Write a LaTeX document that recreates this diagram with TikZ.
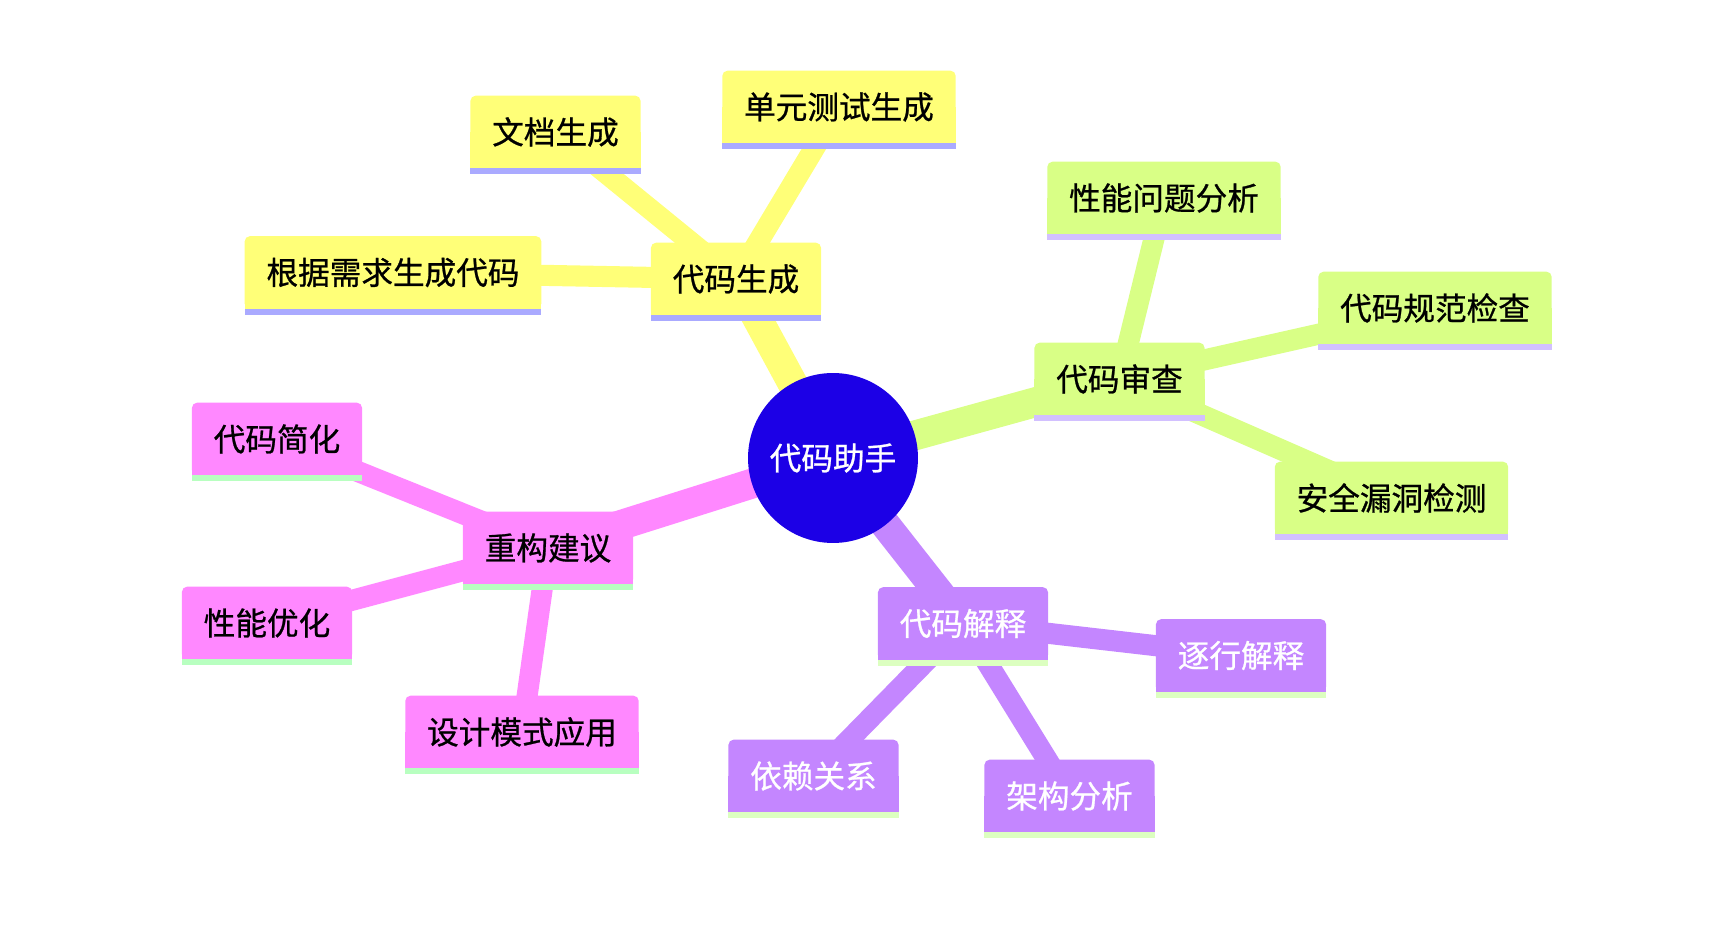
\documentclass[tikz,border=0pt]{standalone}
\usepackage{fontspec}
\newfontfamily\cjk[FakeBold=0.8]{Noto Sans CJK SC}
\definecolor{rootblue}{HTML}{1C00E6}
\definecolor{fillgen}{HTML}{FFFF78}
\definecolor{bargen}{HTML}{AAAAFF}
\definecolor{fillrev}{HTML}{D9FF86}
\definecolor{barrev}{HTML}{D2C0FF}
\definecolor{fillexp}{HTML}{C486FF}
\definecolor{barexp}{HTML}{DCFFC0}
\definecolor{fillref}{HTML}{FF88FF}
\definecolor{barref}{HTML}{B8FFC0}
\pgfdeclarelayer{links}
\pgfdeclarelayer{boxes}
\pgfsetlayers{links,boxes,main}

\begin{document}
\begin{tikzpicture}[
  x=0.02cm,y=-0.02cm,
  topic/.style={font=\cjk\fontsize{18}{18}\selectfont, text=black,
    inner xsep=0.43cm, inner ysep=0pt, minimum height=1.44cm},
  lighttopic/.style={topic, text=white},
  hub/.style={circle, fill=rootblue, text=white, minimum size=3.4cm,
    inner sep=0pt, font=\cjk\fontsize{18}{18}\selectfont},
  trunk/.style={line width=17pt},
  twig/.style={line width=12pt}
]
\useasboundingbox (0,0) rectangle (1732,942);

% central idea
\node[hub] (assist) at (833,458) {代码助手};

% branch: generation
\node[topic] (gen)     at (736,279)   {代码生成};
\node[topic] (gentest) at (839,107)   {单元测试生成};
\node[topic] (gendoc)  at (555.5,132) {文档生成};
\node[topic] (genreq)  at (393,272.5) {根据需求生成代码};

% branch: review
\node[topic] (rev)      at (1119.5,379) {代码审查};
\node[topic] (revperf)  at (1164,198)   {性能问题分析};
\node[topic] (revstyle) at (1435,308)   {代码规范检查};
\node[topic] (revsec)   at (1391.5,498) {安全漏洞检测};

% branch: explanation
\node[lighttopic] (exp)     at (963,623.5)  {代码解释};
\node[lighttopic] (expline) at (1241,655.5) {逐行解释};
\node[lighttopic] (exparch) at (1069.5,796) {架构分析};
\node[lighttopic] (expdep)  at (813.5,776)  {依赖关系};

% branch: refactoring
\node[topic] (ref)     at (548,548) {重构建议};
\node[topic] (refsimp) at (277,439) {代码简化};
\node[topic] (refperf) at (267,623) {性能优化};
\node[topic] (refpat)  at (522,732) {设计模式应用};

% box backgrounds: rounded top, square bottom, underline bar
\begin{pgfonlayer}{boxes}
\foreach \n/\c in {gen/gen,gentest/gen,gendoc/gen,genreq/gen,
                   rev/rev,revperf/rev,revstyle/rev,revsec/rev,
                   exp/exp,expline/exp,exparch/exp,expdep/exp,
                   ref/ref,refsimp/ref,refperf/ref,refpat/ref}{
  \fill[fill\c,rounded corners=3pt] (\n.south west) rectangle (\n.north east);
  \fill[fill\c] (\n.west) rectangle (\n.south east);
  \fill[bar\c] (\n.south west) rectangle ([yshift=-0.12cm]\n.south east);
}
\end{pgfonlayer}

% connectors
\begin{pgfonlayer}{links}
\foreach \b/\c in {gen/gen,rev/rev,exp/exp,ref/ref}
  \draw[trunk,fill\c] (assist.center) -- (\b.center);
\foreach \a/\b in {gen/gentest,gen/gendoc,gen/genreq}
  \draw[twig,fillgen] (\a.center) -- (\b.center);
\foreach \a/\b in {rev/revperf,rev/revstyle,rev/revsec}
  \draw[twig,fillrev] (\a.center) -- (\b.center);
\foreach \a/\b in {exp/expline,exp/exparch,exp/expdep}
  \draw[twig,fillexp] (\a.center) -- (\b.center);
\foreach \a/\b in {ref/refsimp,ref/refperf,ref/refpat}
  \draw[twig,fillref] (\a.center) -- (\b.center);
\end{pgfonlayer}

\end{tikzpicture}
\end{document}
